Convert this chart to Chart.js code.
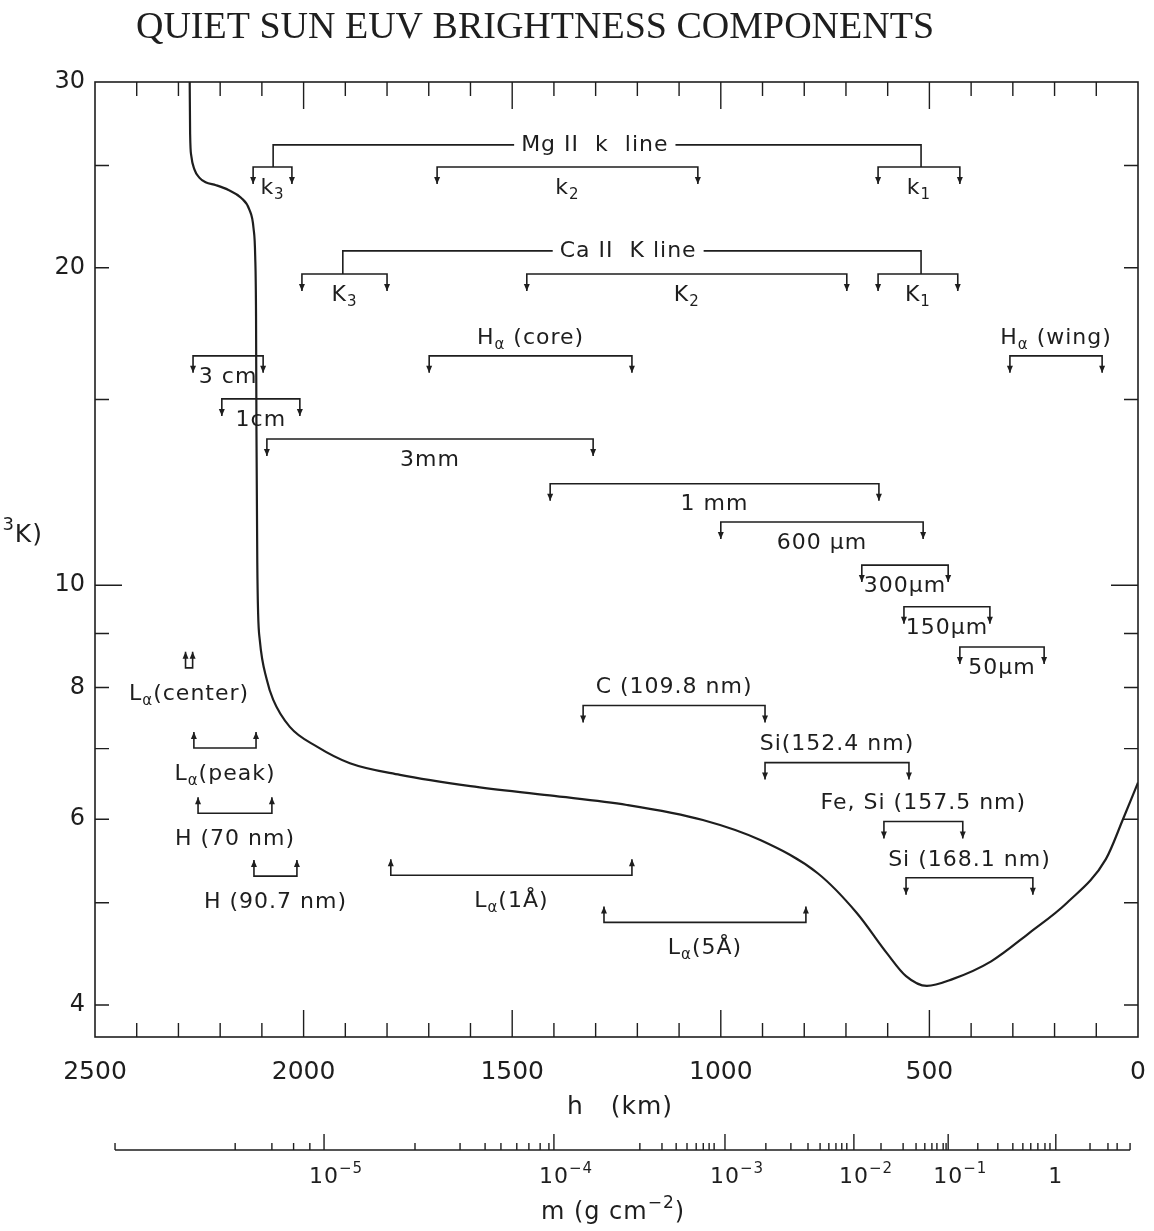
<!DOCTYPE html>
<html>
<head>
<meta charset="utf-8">
<title>Quiet Sun EUV brightness components</title>
<script src="https://cdn.jsdelivr.net/npm/chart.js@4.4.0/dist/chart.umd.min.js"></script>
<style>
  body { margin: 0; background: #fff; }
  #wrap { width: 1154px; height: 1231px; }
</style>
</head>
<body>
<div id="wrap"><canvas id="sunChart" width="1154" height="1231"></canvas></div>
<script>
// temperature model: height h (km) against T (10^3 K)
const curveHeight = [2273, 2272, 2269, 2262, 2250, 2235, 2210, 2180, 2150, 2130, 2120, 2116, 2114, 2113, 2111, 2109, 2105, 2088, 2073, 2033, 1968, 1889, 1769, 1600, 1410, 1225, 1043, 904, 767, 674, 602, 556, 506, 446, 352, 261, 170, 77, 36, 0];
const curveTemp = [30, 26.8, 25.5, 24.8, 24.35, 24.1, 23.95, 23.7, 23.3, 22.7, 21.8, 20.5, 18, 14, 10.5, 9.4, 8.87, 8.13, 7.79, 7.34, 7.03, 6.78, 6.61, 6.45, 6.32, 6.19, 5.99, 5.73, 5.33, 4.89, 4.48, 4.26, 4.17, 4.23, 4.40, 4.68, 5.0, 5.5, 6.0, 6.5];

// axis ticks
const tempTicks = [4, 5, 6, 7, 8, 9, 10, 15, 20, 25, 30];
const tempLabels = [4, 6, 8, 10, 20, 30];
const heightLabels = [2500, 2000, 1500, 1000, 500, 0];

// formation ranges (h from, h to, T level of the bracket)
const bracketText = ["k_3", "k_2", "k_1", "K_3", "K_2", "K_1", "H_α (core)", "H_α (wing)", "3 cm", "1cm", "3mm", "1 mm", "600 μm", "300μm", "150μm", "50μm", "C (109.8 nm)", "Si(152.4 nm)", "Fe, Si (157.5 nm)", "Si (168.1 nm)", "L_α(center)", "L_α(peak)", "H (70 nm)", "H (90.7 nm)", "L_α(1Å)", "L_α(5Å)"];
const bracketFrom = [2121, 1680, 623, 2004, 1465, 623, 1699, 307, 2265, 2196, 2088, 1409, 1000, 662, 561, 427, 1330, 894, 609, 556, 2283, 2263, 2253, 2119, 1791, 1280];
const bracketTo = [2028, 1055, 427, 1800, 698, 432, 1213, 86, 2097, 2009, 1306, 621, 515, 455, 355, 225, 894, 549, 420, 252, 2266, 2114, 2076, 2016, 1213, 796];
const bracketTemp = [24.92, 24.92, 24.92, 19.73, 19.73, 19.73, 16.5, 16.5, 16.5, 15.02, 13.76, 12.48, 11.48, 10.45, 9.54, 8.74, 7.69, 6.79, 5.97, 5.28, 8.35, 7.01, 6.08, 5.30, 5.31, 4.79];
const bracketArrow = ["down", "down", "down", "down", "down", "down", "down", "down", "down", "down", "down", "down", "down", "down", "down", "down", "down", "down", "down", "down", "up", "up", "up", "up", "up", "up"];
const bracketTextSide = ["below", "below", "below", "below", "below", "below", "above", "above", "below", "below", "below", "below", "below", "below", "below", "below", "above", "above", "above", "above", "below", "below", "below", "below", "below", "below"];

// line groups joining the k/K brackets
const groupText = ["Mg II  k  line", "Ca II  K line"];
const groupFrom = [2073, 1906];
const groupTo = [520, 520];
const groupTemp = [26.15, 20.75];
const groupTextAt = [1302, 1222];
const groupDropTo = [24.92, 19.73];

// column mass scale m (g cm^-2) placed against h (km)
const massAxisFrom = 2452;
const massAxisTo = 19;
const massDecadeLabel = ["10^{−5}", "10^{−4}", "10^{−3}", "10^{−2}", "10^{−1}", "1"];
const massDecadeHeight = [1951, 1400, 990, 681, 455, 197];
const massMinorHeight = [2164, 2076, 2024, 1985,
  1733, 1625, 1565, 1527, 1489, 1460, 1433, 1412,
  1194, 1141, 1107, 1081, 1059, 1042, 1028, 1016,
  892, 832, 791, 762, 741, 724, 710, 698,
  616, 563, 532, 511, 494, 482, 467, 460,
  384, 336, 300, 276, 257, 240, 223, 211,
  115, 72, 50];

const INK = "#1e1e1e";
const SANS = "'DejaVu Sans', sans-serif";

// text with _{sub} / _x and ^{sup}
function parseRich(str) {
  const out = [];
  let i = 0, buf = "";
  while (i < str.length) {
    const c = str[i];
    if ((c === "_" || c === "^") && i + 1 < str.length) {
      if (buf) { out.push({ t: buf, m: "n" }); buf = ""; }
      let t;
      if (str[i + 1] === "{") {
        const j = str.indexOf("}", i);
        t = str.slice(i + 2, j);
        i = j + 1;
      } else {
        t = str[i + 1];
        i += 2;
      }
      out.push({ t, m: c === "_" ? "sub" : "sup" });
    } else {
      buf += c;
      i++;
    }
  }
  if (buf) out.push({ t: buf, m: "n" });
  return out;
}

function richWidth(ctx, str, size) {
  let w = 0;
  parseRich(str).forEach(s => {
    ctx.font = (s.m === "n" ? size : Math.round(size * 0.7)) + "px " + SANS;
    w += ctx.measureText(s.t).width;
  });
  return w;
}

function drawRich(ctx, str, x, y, size, align) {
  const w = richWidth(ctx, str, size);
  let cx = align === "right" ? x - w : align === "left" ? x : x - w / 2;
  ctx.textAlign = "left";
  ctx.textBaseline = "middle";
  parseRich(str).forEach(s => {
    const sz = s.m === "n" ? size : Math.round(size * 0.7);
    ctx.font = sz + "px " + SANS;
    const dy = s.m === "sub" ? size * 0.32 : s.m === "sup" ? -size * 0.38 : 0;
    ctx.fillText(s.t, cx, y + dy);
    cx += ctx.measureText(s.t).width;
  });
  return w;
}

function arrowHead(ctx, x, tip, up) {
  const d = up ? 1 : -1;
  ctx.beginPath();
  ctx.moveTo(x, tip);
  ctx.lineTo(x - 3, tip + d * 7);
  ctx.lineTo(x + 3, tip + d * 7);
  ctx.closePath();
  ctx.fill();
}

const annotate = {
  id: "annotate",
  afterDraw(chart) {
    const ctx = chart.ctx;
    const x = chart.scales.x, y = chart.scales.y, a = chart.chartArea;
    ctx.save();
    ctx.strokeStyle = INK;
    ctx.fillStyle = INK;
    ctx.letterSpacing = "1px";

    // frame and inward ticks
    ctx.lineWidth = 1.6;
    ctx.strokeRect(a.left, a.top, a.width, a.height);
    ctx.lineWidth = 1.4;
    x.ticks.forEach(t => {
      if (t.value <= 0 || t.value >= 2500) return;
      const px = x.getPixelForValue(t.value);
      const len = t.value % 500 === 0 ? 27 : 14;
      ctx.beginPath();
      ctx.moveTo(px, a.top); ctx.lineTo(px, a.top + len);
      ctx.moveTo(px, a.bottom); ctx.lineTo(px, a.bottom - len);
      ctx.stroke();
    });
    y.ticks.forEach(t => {
      if (t.value >= 30) return;
      const py = y.getPixelForValue(t.value);
      const len = t.value === 10 ? 27 : 14;
      ctx.beginPath();
      ctx.moveTo(a.left, py); ctx.lineTo(a.left + len, py);
      ctx.moveTo(a.right, py); ctx.lineTo(a.right - len, py);
      ctx.stroke();
    });

    // brackets
    ctx.lineWidth = 1.6;
    bracketText.forEach((label, i) => {
      const x1 = x.getPixelForValue(bracketFrom[i]);
      const x2 = x.getPixelForValue(bracketTo[i]);
      const yl = y.getPixelForValue(bracketTemp[i]);
      const up = bracketArrow[i] === "up";
      const tip = up ? yl - 16 : yl + 17;
      ctx.beginPath();
      ctx.moveTo(x1, tip); ctx.lineTo(x1, yl); ctx.lineTo(x2, yl); ctx.lineTo(x2, tip);
      ctx.stroke();
      arrowHead(ctx, x1, tip, up);
      arrowHead(ctx, x2, tip, up);
      const ly = bracketTextSide[i] === "above" ? yl - 18 : (up ? yl + 26 : yl + 21);
      drawRich(ctx, label, (x1 + x2) / 2, ly, 22, "center");
    });

    // Mg II / Ca II groups
    groupText.forEach((label, i) => {
      const x1 = x.getPixelForValue(groupFrom[i]);
      const x2 = x.getPixelForValue(groupTo[i]);
      const xt = x.getPixelForValue(groupTextAt[i]);
      const yl = y.getPixelForValue(groupTemp[i]);
      const yd = y.getPixelForValue(groupDropTo[i]);
      const w = richWidth(ctx, label, 22);
      ctx.beginPath();
      ctx.moveTo(x1, yd); ctx.lineTo(x1, yl); ctx.lineTo(xt - w / 2 - 7, yl);
      ctx.moveTo(xt + w / 2 + 7, yl); ctx.lineTo(x2, yl); ctx.lineTo(x2, yd);
      ctx.stroke();
      drawRich(ctx, label, xt, yl, 22, "center");
    });

    // column mass axis
    const my = 1150;
    ctx.lineWidth = 1.4;
    ctx.beginPath();
    ctx.moveTo(x.getPixelForValue(massAxisFrom), my);
    ctx.lineTo(x.getPixelForValue(massAxisTo), my);
    [massAxisFrom, massAxisTo].concat(massMinorHeight).forEach(h => {
      const px = x.getPixelForValue(h);
      ctx.moveTo(px, my); ctx.lineTo(px, my - 7);
    });
    massDecadeHeight.forEach(h => {
      const px = x.getPixelForValue(h);
      ctx.moveTo(px, my); ctx.lineTo(px, my - 16);
    });
    ctx.stroke();
    massDecadeLabel.forEach((label, i) => {
      const px = x.getPixelForValue(massDecadeHeight[i]);
      const base = label.split("^")[0];
      const bw = richWidth(ctx, base, 22);
      drawRich(ctx, label, px - bw / 2, 1177, 22, "left");
    });

    // axis titles and figure title
    drawRich(ctx, "h   (km)", 620, 1107, 25, "center");
    drawRich(ctx, "m (g cm^{−2})", 613, 1213, 24, "center");
    drawRich(ctx, "T (10^{3}K)", 43, 535, 25, "right");

    ctx.letterSpacing = "0px";
    ctx.font = "38px 'Liberation Serif', serif";
    ctx.textAlign = "center";
    ctx.textBaseline = "middle";
    ctx.fillText("QUIET SUN EUV BRIGHTNESS COMPONENTS", 535, 28);
    ctx.restore();
  }
};

new Chart(document.getElementById("sunChart"), {
  type: "line",
  data: {
    datasets: [{
      data: curveHeight.map((h, i) => ({ x: h, y: curveTemp[i] })),
      borderColor: INK,
      borderWidth: 2.2,
      pointRadius: 0,
      cubicInterpolationMode: "monotone",
      fill: false
    }]
  },
  options: {
    responsive: false,
    animation: false,
    layout: { padding: { top: 82, right: 16, bottom: 0, left: 0 } },
    plugins: { legend: { display: false }, tooltip: { enabled: false } },
    scales: {
      x: {
        type: "linear",
        min: 0,
        max: 2500,
        reverse: true,
        border: { display: false },
        grid: { display: false, drawTicks: false },
        ticks: {
          stepSize: 100,
          autoSkip: false,
          maxRotation: 0,
          padding: 20,
          color: INK,
          font: { family: "DejaVu Sans", size: 25 },
          callback: v => heightLabels.includes(v) ? String(v) : ""
        },
        afterFit: s => { s.height = 194; s.paddingLeft = 0; s.paddingRight = 0; }
      },
      y: {
        type: "logarithmic",
        min: 3.73,
        max: 30,
        border: { display: false },
        grid: { display: false, drawTicks: false },
        afterBuildTicks: s => { s.ticks = tempTicks.map(v => ({ value: v })); },
        ticks: {
          autoSkip: false,
          padding: 10,
          color: INK,
          font: { family: "DejaVu Sans", size: 24 },
          callback: v => tempLabels.includes(v) ? String(v) : ""
        },
        afterFit: s => { s.width = 95; s.paddingTop = 0; s.paddingBottom = 0; }
      }
    }
  },
  plugins: [annotate]
});
</script>
</body>
</html>
